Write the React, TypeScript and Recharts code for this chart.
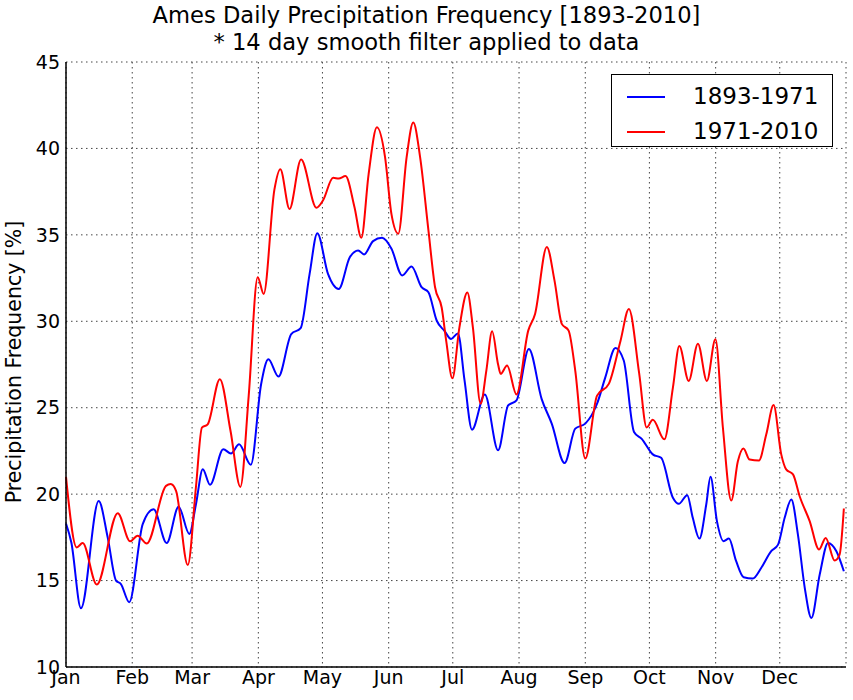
import React from "react";
import {
  LineChart,
  Line,
  XAxis,
  YAxis,
  CartesianGrid,
  Legend,
} from "recharts";

const monthNames = ["Jan", "Feb", "Mar", "Apr", "May", "Jun", "Jul", "Aug", "Sep", "Oct", "Nov", "Dec"];
const monthStartDays = [0, 31, 59, 90, 120, 151, 181, 212, 243, 273, 304, 334];
const yTicks = [10, 15, 20, 25, 30, 35, 40, 45];

const seriesNames = ["1893-1971", "1971-2010"];
const seriesColors = ["#0000ff", "#ff0000"];

const blueDays = [
  0, 2.5, 7, 15.3, 19.5, 23.4, 25.7, 29.6, 35.9, 41, 47.1, 52.7, 57.7, 60.8, 64, 67.4, 73.6, 77.2, 81,
  86.5, 91.3, 94.7, 99.4, 105.4, 109.8, 114, 117.6, 122.6, 127.6, 132.8, 136.7, 139.5, 143.7, 147.9,
  152.3, 157.3, 161.7, 166.4, 169.6, 173.5, 177, 180.2, 183.4, 186.5, 190, 196, 202.2, 206.9, 210.8,
  216.6, 222.6, 227.3, 233.3, 238.3, 243, 248.5, 252.4, 257.1, 261, 265.8, 269.4, 274.6, 278.5, 284,
  286.75, 290.7, 293.3, 296.4, 299.6, 301.6, 304.6, 307.7, 310.2, 313.6, 317.1, 321.4, 325.3, 330,
  333.2, 336.3, 339.4, 342.5, 345.7, 348.8, 352.7, 356.6, 360.5, 364,
];
const blueValues = [
  18.3, 17.2, 13.4, 19.6, 17.5, 15.0, 14.8, 13.75, 18.27, 19.13, 17.17, 19.27, 17.7, 19.4, 21.44, 20.54,
  22.6, 22.35, 22.88, 21.7, 26.36, 27.8, 26.8, 29.26, 29.6, 32.74, 35.1, 32.74, 31.87, 33.7, 34.1, 33.87,
  34.64, 34.83, 34.2, 32.65, 33.17, 31.97, 31.68, 30.03, 29.46, 28.98, 29.3, 26.58, 23.73, 25.77, 22.54,
  25.13, 25.42, 28.4, 25.5, 24.08, 21.8, 23.79, 24.08, 25.23, 26.77, 28.46, 27.73, 23.6, 23.2, 22.3,
  22.1, 19.79, 19.44, 19.94, 18.63, 17.43, 19.4, 21.0, 18.44, 17.28, 17.43, 16.12, 15.19, 15.12, 15.73,
  16.7, 17.08, 18.63, 19.69, 17.66, 14.58, 12.84, 15.35, 17.18, 16.7, 15.54,
];

const redDays = [
  0, 5, 7.8, 14.4, 24.2, 30, 33.5, 37.8, 46.8, 49, 51.5, 57, 60.8, 63.6, 66.3, 72, 77, 81.6, 85.5, 89.7,
  92.5, 97.5, 100.3, 104.6, 110, 117.2, 120.3, 125, 127.6, 130.8, 135, 138.2, 141.6, 145.5, 149.3, 152.3,
  155.5, 159.4, 162.5, 165.7, 169.6, 172.7, 175.8, 178, 180.8, 184.1, 187.8, 190.4, 194, 196.7, 199.4,
  202.2, 203.4, 206.4, 210.8, 216.3, 219.5, 225, 228.6, 232, 235.2, 238.3, 243, 248.5, 254, 259.5, 263.4,
  268.2, 271.7, 274.6, 280, 284, 287, 291.4, 295.7, 299.9, 303.9, 307.4, 311.3, 314.4, 317, 319.9, 324.25,
  327.7, 331.1, 334.7, 337, 340.2, 343.3, 348, 352.4, 355.5, 359.7, 362, 364,
];
const redValues = [
  21.0, 16.92, 17.17, 14.77, 18.9, 17.27, 17.6, 17.15, 20.48, 20.58, 20.19, 15.9, 20.4, 23.85, 24.04, 26.65,
  23.65, 20.42, 25.7, 32.55, 31.58, 37.6, 38.8, 36.5, 39.36, 36.57, 37.0, 38.3, 38.26, 38.4, 36.6, 34.83,
  38.5, 41.22, 39.5, 36.2, 35.07, 39.5, 41.5, 39.5, 35.26, 31.97, 30.8, 28.8, 26.7, 29.65, 31.67, 29.65,
  25.23, 27.15, 29.42, 27.5, 26.96, 27.44, 25.77, 29.46, 30.42, 34.3, 32.35, 29.85, 29.46, 27.15, 22.06,
  25.7, 26.38, 28.88, 30.71, 27.0, 23.86, 24.3, 23.17, 26.16, 28.57, 26.55, 28.7, 26.55, 28.96, 23.84,
  19.63, 21.9, 22.64, 22.0, 21.95, 23.46, 25.15, 22.3, 21.43, 21.14, 19.88, 18.44, 16.8, 17.47, 16.16,
  16.5, 19.17,
];

const blueData = blueDays.map((d, i) => ({ day: d, value: blueValues[i] }));
const redData = redDays.map((d, i) => ({ day: d, value: redValues[i] }));

const FONT = "'DejaVu Sans', sans-serif";

const LegendBox = () => (
  <div
    style={{
      border: "1.5px solid #000",
      background: "#fff",
      width: 222,
      height: 73,
      boxSizing: "border-box",
      fontFamily: FONT,
      fontSize: 23,
      color: "#000",
      padding: "4px 0 0 15px",
    }}
  >
    {seriesNames.map((n, i) => (
      <div key={n} style={{ display: "flex", alignItems: "center", height: 35 }}>
        <div style={{ width: 38, height: 2, background: seriesColors[i] }} />
        <div style={{ marginLeft: 28, lineHeight: "35px" }}>{n}</div>
      </div>
    ))}
  </div>
);

const YLabel = () => (
  <text
    transform="translate(21, 362) rotate(-90)"
    textAnchor="middle"
    fontFamily={FONT}
    fontSize={20.5}
    fill="#000"
  >
    Precipitation Frequency [%]
  </text>
);

export default function App() {
  return (
    <div style={{ position: "absolute", left: 0, top: 0, width: 853, height: 700, background: "#fff" }}>
      <div
        style={{
          position: "absolute",
          left: 0,
          top: 2,
          width: 853,
          textAlign: "center",
          fontFamily: FONT,
          fontSize: 22.6,
          lineHeight: "27px",
          color: "#000",
        }}
      >
        <div>Ames Daily Precipitation Frequency [1893-2010]</div>
        <div>* 14 day smooth filter applied to data</div>
      </div>
      <LineChart
        width={853}
        height={700}
        margin={{ top: 62, right: 7, bottom: 0, left: 0 }}
        style={{ position: "absolute", left: 0, top: 0 }}
      >
        <CartesianGrid stroke="#444" strokeDasharray="1.5 3.5" strokeWidth={1} />
        <XAxis
          dataKey="day"
          type="number"
          domain={[0, 365]}
          ticks={monthStartDays}
          tickFormatter={(v: number) => monthNames[monthStartDays.indexOf(v)]}
          allowDuplicatedCategory={false}
          height={33}
          tickLine={false}
          tickSize={0}
          tickMargin={4}
          axisLine={{ stroke: "#000", strokeWidth: 1.5 }}
          tick={{ fill: "#000", fontFamily: FONT, fontSize: 19 }}
          interval={0}
        />
        <XAxis
          xAxisId="top"
          orientation="top"
          type="number"
          domain={[0, 365]}
          height={0}
          tick={false}
          tickLine={false}
          axisLine={{ stroke: "#000", strokeWidth: 1.5 }}
        />
        <YAxis
          type="number"
          domain={[10, 45]}
          ticks={yTicks}
          width={66}
          tickLine={false}
          tickSize={0}
          tickMargin={6}
          axisLine={{ stroke: "#000", strokeWidth: 1.5 }}
          tick={{ fill: "#000", fontFamily: FONT, fontSize: 19 }}
          interval={0}
          label={<YLabel />}
        />
        <YAxis
          yAxisId="right"
          orientation="right"
          type="number"
          domain={[10, 45]}
          width={0}
          tick={false}
          tickLine={false}
          axisLine={{ stroke: "#000", strokeWidth: 1.5 }}
        />
        <Line
          data={blueData}
          dataKey="value"
          name={seriesNames[0]}
          type="monotone"
          stroke={seriesColors[0]}
          strokeWidth={2}
          dot={false}
          isAnimationActive={false}
        />
        <Line
          data={redData}
          dataKey="value"
          name={seriesNames[1]}
          type="monotone"
          stroke={seriesColors[1]}
          strokeWidth={2}
          dot={false}
          isAnimationActive={false}
        />
        <Legend
          layout="vertical"
          align="center"
          verticalAlign="middle"
          content={<LegendBox />}
          wrapperStyle={{ position: "absolute", top: 74, left: 611, width: 222, height: 73 }}
        />
      </LineChart>
    </div>
  );
}
